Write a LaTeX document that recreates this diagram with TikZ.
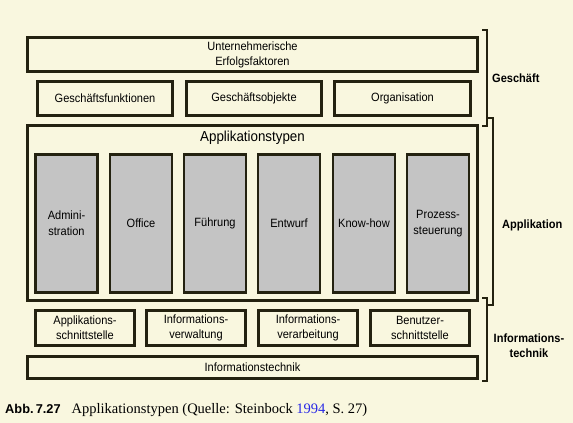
\documentclass[tikz,border=0pt]{standalone}
\usepackage{fontspec}
\setmainfont{Liberation Serif}
\setsansfont{Liberation Sans}
\newfontfamily\diag[FakeStretch=0.92]{Liberation Sans}
\definecolor{bgc}{RGB}{249,247,223}
\definecolor{ink}{RGB}{36,34,16}
\definecolor{grayfill}{RGB}{196,196,196}
\definecolor{linkblue}{RGB}{40,40,230}
\tikzset{
  box/.style={draw=ink, line width=2.6pt, rectangle, inner sep=0pt, align=center,
     font=\diag\fontsize{12}{15}\selectfont, text=black},
  graybox/.style={box, fill=grayfill, minimum width=62pt, minimum height=138pt,
     font=\diag\fontsize{12}{16}\selectfont},
  lowbox/.style={box, minimum width=99pt, minimum height=35pt},
  topbox/.style={box, minimum width=135pt, minimum height=34pt},
  brack/.style={draw=ink, line width=2pt},
  side/.style={font=\diag\bfseries\fontsize{12}{15}\selectfont, align=center, inner sep=0pt}
}
\begin{document}
\begin{tikzpicture}[x=1pt,y=-1pt]
\fill[bgc] (0,0) rectangle (573,423);
\useasboundingbox (0,0) rectangle (573,423);
% Geschaeft
\node[box, minimum width=450pt, minimum height=34pt] (uef) at (252.5,54.5) {Unternehmerische\\Erfolgsfaktoren};
\node[topbox] (gf) at (105,98.5) {Geschäftsfunktionen};
\node[topbox] (go) at (254,98.5) {Geschäftsobjekte};
\node[topbox, minimum width=136pt] (org) at (402.5,98.5) {Organisation};
% Applikation
\node[box, minimum width=450pt, minimum height=175pt] (apt) at (252.5,213) {};
\node[font=\diag\fontsize{14.5}{16}\selectfont, inner sep=0pt] (aptt) at (252.5,138) {Applikationstypen};
\node[graybox] (adm) at (66.5,223.5) {Admini-\\stration};
\node[graybox] (off) at (141,223.5) {Office};
\node[graybox] (fue) at (215,223.5) {Führung};
\node[graybox] (ent) at (289,223.5) {Entwurf};
\node[graybox] (kh) at (364,223.5) {Know-how};
\node[graybox] (ps) at (438,223.5) {Prozess-\\steuerung};
% Informationstechnik
\node[lowbox] (as) at (85,328) {Applikations-\\schnittstelle};
\node[lowbox] (iv) at (196,328) {Informations-\\verwaltung};
\node[lowbox] (iva) at (308,328) {Informations-\\verarbeitung};
\node[lowbox] (bs) at (420,328) {Benutzer-\\schnittstelle};
\node[box, minimum width=450pt, minimum height=22pt] (it) at (252.5,367.5) {Informationstechnik};
% brackets
\draw[brack] (482,30) -- (487,30) -- (487,126) -- (482,126);
\draw[brack] (488,118) -- (493,118) -- (493,305) -- (488,305);
\draw[brack] (482,298) -- (487,298) -- (487,381) -- (482,381);
\node[side, anchor=west] (lg) at (492,78) {Geschäft};
\node[side, anchor=west] (la) at (502,225) {Applikation};
\node[side] (li) at (529,345.5) {Informations-\\technik};
% caption
\node[anchor=west, inner sep=0pt] (cap) at (5,410) {{\sffamily\bfseries\fontsize{12.8}{14}\selectfont Abb.\,7.27}\hspace{11pt}{\fontsize{14.5}{16}\selectfont Applikationstypen (Quelle: Steinbock \textcolor{linkblue}{1994}, S. 27)}};
\end{tikzpicture}
\end{document}
